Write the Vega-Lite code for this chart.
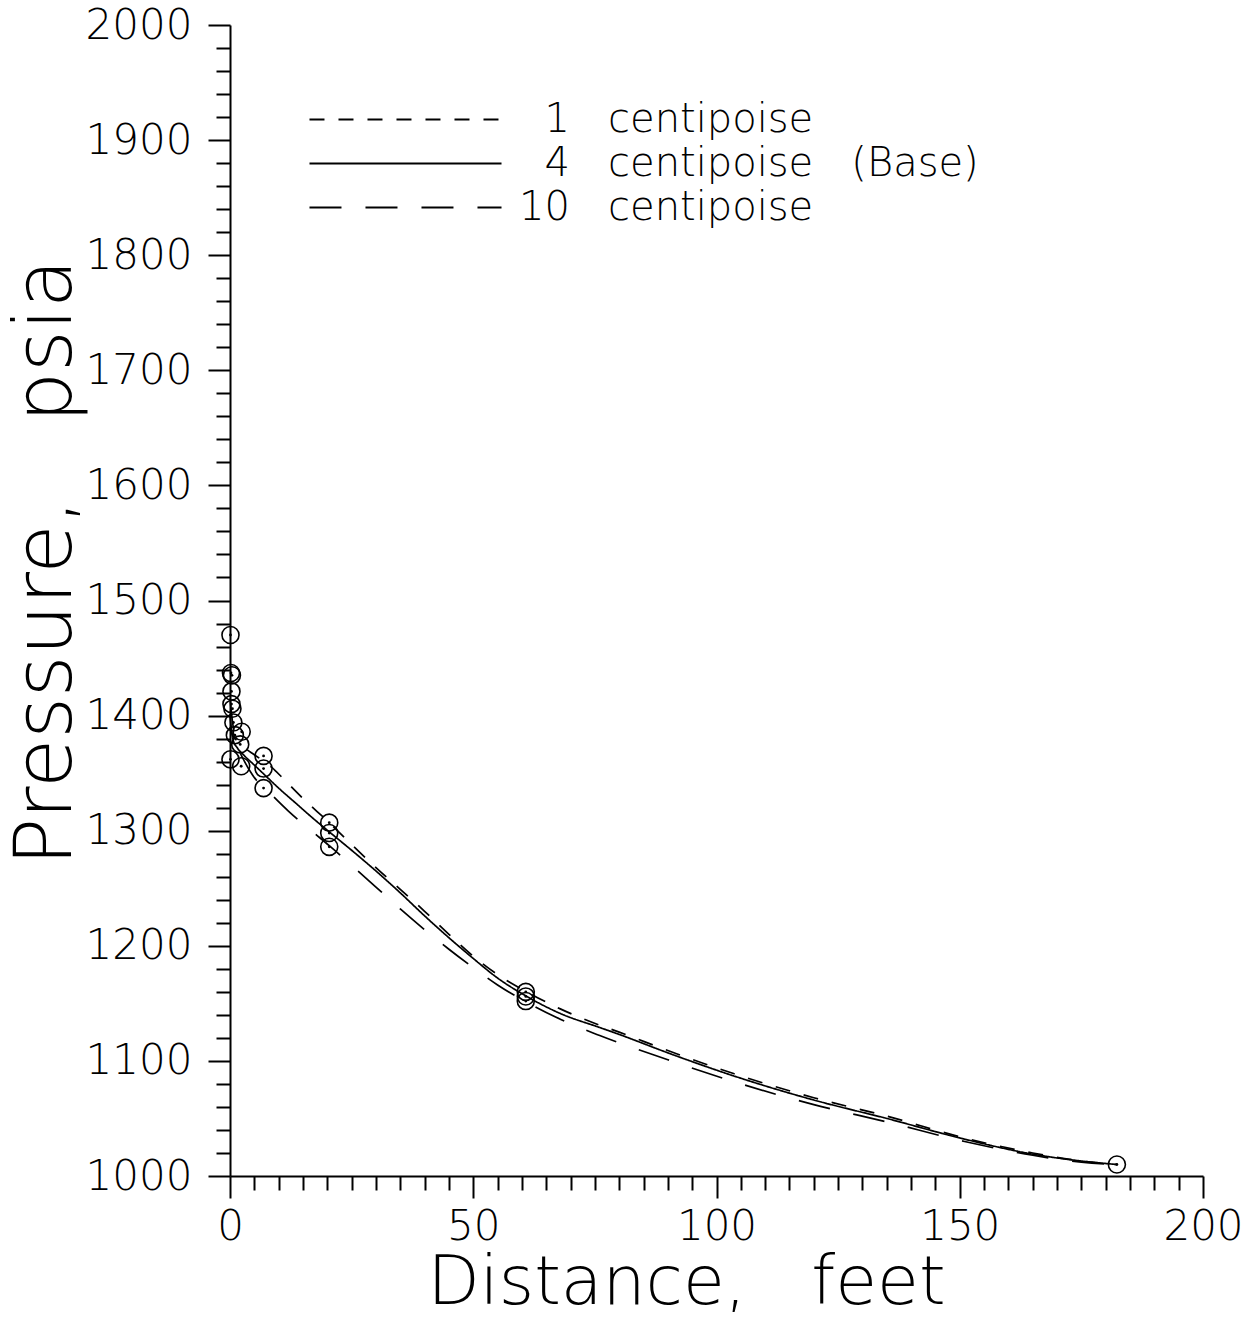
{
  "$schema": "https://vega.github.io/schema/vega-lite/v6.json",
  "width": 973,
  "height": 1151,
  "autosize": {"type": "none"},
  "padding": {"left": 230, "top": 25, "right": 48, "bottom": 143},
  "background": "white",
  "config": {
    "view": {"stroke": null},
    "font": "DejaVu Sans",
    "axis": {
      "domainColor": "black",
      "domainWidth": 2,
      "tickColor": "black",
      "tickWidth": 2,
      "labelColor": "black",
      "titleColor": "black",
      "labelFont": "DejaVu Sans",
      "titleFont": "DejaVu Sans",
      "labelFontSize": 42,
      "labelFontWeight": 200,
      "titleFontWeight": 200,
      "labelOverlap": false,
      "labelFlush": false,
      "grid": false
    }
  },
  "datasets": {
    "curves": [
      {"viscosity": "4", "distance": 0, "pressure": 1400},
      {"viscosity": "4", "distance": 0.3, "pressure": 1388},
      {"viscosity": "4", "distance": 0.7, "pressure": 1378},
      {"viscosity": "4", "distance": 1.5, "pressure": 1372},
      {"viscosity": "4", "distance": 3, "pressure": 1365},
      {"viscosity": "4", "distance": 5, "pressure": 1357},
      {"viscosity": "4", "distance": 7, "pressure": 1349},
      {"viscosity": "4", "distance": 10, "pressure": 1337},
      {"viscosity": "4", "distance": 13.5, "pressure": 1324},
      {"viscosity": "4", "distance": 17, "pressure": 1311},
      {"viscosity": "4", "distance": 20.4, "pressure": 1299},
      {"viscosity": "4", "distance": 25, "pressure": 1283},
      {"viscosity": "4", "distance": 30, "pressure": 1265},
      {"viscosity": "4", "distance": 35, "pressure": 1246},
      {"viscosity": "4", "distance": 40, "pressure": 1226},
      {"viscosity": "4", "distance": 45, "pressure": 1207},
      {"viscosity": "4", "distance": 50, "pressure": 1189},
      {"viscosity": "4", "distance": 55, "pressure": 1172},
      {"viscosity": "4", "distance": 61, "pressure": 1156},
      {"viscosity": "4", "distance": 68, "pressure": 1141},
      {"viscosity": "4", "distance": 76, "pressure": 1129},
      {"viscosity": "4", "distance": 80, "pressure": 1123},
      {"viscosity": "4", "distance": 90, "pressure": 1107},
      {"viscosity": "4", "distance": 103.5, "pressure": 1087},
      {"viscosity": "4", "distance": 120, "pressure": 1066},
      {"viscosity": "4", "distance": 135, "pressure": 1050},
      {"viscosity": "4", "distance": 151, "pressure": 1032},
      {"viscosity": "4", "distance": 165, "pressure": 1019},
      {"viscosity": "4", "distance": 175, "pressure": 1013},
      {"viscosity": "4", "distance": 182.3, "pressure": 1010},
      {"viscosity": "1", "distance": 0, "pressure": 1390},
      {"viscosity": "1", "distance": 0.5, "pressure": 1383},
      {"viscosity": "1", "distance": 1.5, "pressure": 1378},
      {"viscosity": "1", "distance": 3, "pressure": 1372},
      {"viscosity": "1", "distance": 5, "pressure": 1366},
      {"viscosity": "1", "distance": 8.6, "pressure": 1355},
      {"viscosity": "1", "distance": 11, "pressure": 1345},
      {"viscosity": "1", "distance": 15, "pressure": 1328},
      {"viscosity": "1", "distance": 20.4, "pressure": 1307},
      {"viscosity": "1", "distance": 25, "pressure": 1288},
      {"viscosity": "1", "distance": 30, "pressure": 1268},
      {"viscosity": "1", "distance": 35, "pressure": 1249},
      {"viscosity": "1", "distance": 40, "pressure": 1230},
      {"viscosity": "1", "distance": 45, "pressure": 1210},
      {"viscosity": "1", "distance": 50, "pressure": 1191},
      {"viscosity": "1", "distance": 55, "pressure": 1175},
      {"viscosity": "1", "distance": 61, "pressure": 1160},
      {"viscosity": "1", "distance": 68, "pressure": 1145},
      {"viscosity": "1", "distance": 76, "pressure": 1131},
      {"viscosity": "1", "distance": 80, "pressure": 1125},
      {"viscosity": "1", "distance": 90, "pressure": 1109},
      {"viscosity": "1", "distance": 103.5, "pressure": 1089},
      {"viscosity": "1", "distance": 120, "pressure": 1068},
      {"viscosity": "1", "distance": 135, "pressure": 1052},
      {"viscosity": "1", "distance": 151, "pressure": 1033},
      {"viscosity": "1", "distance": 165, "pressure": 1020},
      {"viscosity": "1", "distance": 175, "pressure": 1013},
      {"viscosity": "1", "distance": 182.3, "pressure": 1010},
      {"viscosity": "10", "distance": 0, "pressure": 1415},
      {"viscosity": "10", "distance": 0.5, "pressure": 1395},
      {"viscosity": "10", "distance": 1.5, "pressure": 1375},
      {"viscosity": "10", "distance": 3, "pressure": 1360},
      {"viscosity": "10", "distance": 4.7, "pressure": 1348},
      {"viscosity": "10", "distance": 8.6, "pressure": 1331},
      {"viscosity": "10", "distance": 12, "pressure": 1317},
      {"viscosity": "10", "distance": 17, "pressure": 1299},
      {"viscosity": "10", "distance": 20.4, "pressure": 1287},
      {"viscosity": "10", "distance": 25, "pressure": 1270},
      {"viscosity": "10", "distance": 30, "pressure": 1251},
      {"viscosity": "10", "distance": 35, "pressure": 1232},
      {"viscosity": "10", "distance": 40, "pressure": 1214},
      {"viscosity": "10", "distance": 45, "pressure": 1197},
      {"viscosity": "10", "distance": 50, "pressure": 1181},
      {"viscosity": "10", "distance": 55, "pressure": 1166},
      {"viscosity": "10", "distance": 61, "pressure": 1151},
      {"viscosity": "10", "distance": 68, "pressure": 1136},
      {"viscosity": "10", "distance": 76, "pressure": 1122},
      {"viscosity": "10", "distance": 90, "pressure": 1101},
      {"viscosity": "10", "distance": 103.5, "pressure": 1082},
      {"viscosity": "10", "distance": 120, "pressure": 1062},
      {"viscosity": "10", "distance": 135, "pressure": 1047},
      {"viscosity": "10", "distance": 151, "pressure": 1030},
      {"viscosity": "10", "distance": 165, "pressure": 1018},
      {"viscosity": "10", "distance": 175, "pressure": 1012},
      {"viscosity": "10", "distance": 182.3, "pressure": 1010}
    ],
    "obs": [
      {"distance": 0.1, "pressure": 1470},
      {"distance": 0.2, "pressure": 1437},
      {"distance": 0.4, "pressure": 1435},
      {"distance": 0.3, "pressure": 1421},
      {"distance": 0.3, "pressure": 1410},
      {"distance": 0.5, "pressure": 1406},
      {"distance": 0.7, "pressure": 1394},
      {"distance": 2.4, "pressure": 1386},
      {"distance": 1.0, "pressure": 1383},
      {"distance": 2.1, "pressure": 1375},
      {"distance": 0.1, "pressure": 1362},
      {"distance": 2.3, "pressure": 1356},
      {"distance": 6.9, "pressure": 1365},
      {"distance": 6.9, "pressure": 1354},
      {"distance": 6.9, "pressure": 1337},
      {"distance": 20.4, "pressure": 1307},
      {"distance": 20.4, "pressure": 1298},
      {"distance": 20.4, "pressure": 1286},
      {"distance": 60.8, "pressure": 1160},
      {"distance": 60.8, "pressure": 1156},
      {"distance": 60.8, "pressure": 1152},
      {"distance": 182.3, "pressure": 1010}
    ]
  },
  "encoding": {
    "x": {
      "field": "distance",
      "type": "quantitative",
      "scale": {"domain": [0, 200], "nice": false, "zero": false},
      "axis": {
        "values": [0,5,10,15,20,25,30,35,40,45,50,55,60,65,70,75,80,85,90,95,100,105,110,115,120,125,130,135,140,145,150,155,160,165,170,175,180,185,190,195,200],
        "labelExpr": "datum.value % 50 === 0 ? datum.label : ''",
        "tickSize": {"condition": {"test": "datum.value % 50 === 0", "value": 22}, "value": 14},
        "labelPadding": 8,
        "title": "Distance,\u00a0\u00a0\u00a0feet",
        "titleFontSize": 68,
        "titleX": 456,
        "titleY": 127,
        "titleBaseline": "alphabetic"
      }
    },
    "y": {
      "field": "pressure",
      "type": "quantitative",
      "scale": {"domain": [1000, 2000], "nice": false, "zero": false},
      "axis": {
        "values": [1000,1020,1040,1060,1080,1100,1120,1140,1160,1180,1200,1220,1240,1260,1280,1300,1320,1340,1360,1380,1400,1420,1440,1460,1480,1500,1520,1540,1560,1580,1600,1620,1640,1660,1680,1700,1720,1740,1760,1780,1800,1820,1840,1860,1880,1900,1920,1940,1960,1980,2000],
        "labelExpr": "datum.value % 100 === 0 ? datum.label : ''",
        "format": "d",
        "tickSize": {"condition": {"test": "datum.value % 100 === 0", "value": 22}, "value": 14},
        "labelPadding": 16,
        "title": "Pressure,\u00a0\u00a0\u00a0psia",
        "titleFontSize": 80,
        "titleAngle": -90,
        "titleX": -160,
        "titleY": 537,
        "titleAlign": "center",
        "titleBaseline": "alphabetic"
      }
    }
  },
  "layer": [
    {
      "data": {"name": "curves"},
      "mark": {"type": "line", "color": "black", "strokeWidth": 1.7, "interpolate": "monotone"},
      "encoding": {
        "strokeDash": {
          "field": "viscosity",
          "type": "nominal",
          "scale": {"domain": ["1", "4", "10"], "range": [[15, 14], [1, 0], [32, 24]]},
          "legend": {
            "orient": "none",
            "legendX": 155,
            "legendY": 74,
            "title": null,
            "symbolType": "M-5,0H5",
            "symbolSize": 1475,
            "symbolStrokeWidth": 2,
            "symbolStrokeColor": "black",
            "symbolFillColor": "transparent",
            "labelFontSize": 40,
            "labelFontWeight": 200,
            "labelFont": "DejaVu Sans",
            "labelColor": "black",
            "labelLimit": 800,
            "labelOffset": 93,
            "rowPadding": 3,
            "labelExpr": "datum.value === '10' ? '10\u00a0\u00a0\u00a0centipoise' : datum.value === '4' ? '\u200b\u00a0\u00a04\u00a0\u00a0\u00a0centipoise\u00a0\u00a0\u00a0(Base)' : '\u200b\u00a0\u00a01\u00a0\u00a0\u00a0centipoise'"
          }
        }
      }
    },
    {
      "data": {"name": "obs"},
      "mark": {"type": "point", "shape": "circle", "filled": false, "size": 290, "strokeWidth": 1.6, "color": "black", "opacity": 1}
    },
    {
      "data": {"name": "obs"},
      "mark": {"type": "circle", "size": 8, "color": "black", "opacity": 1}
    }
  ]
}
